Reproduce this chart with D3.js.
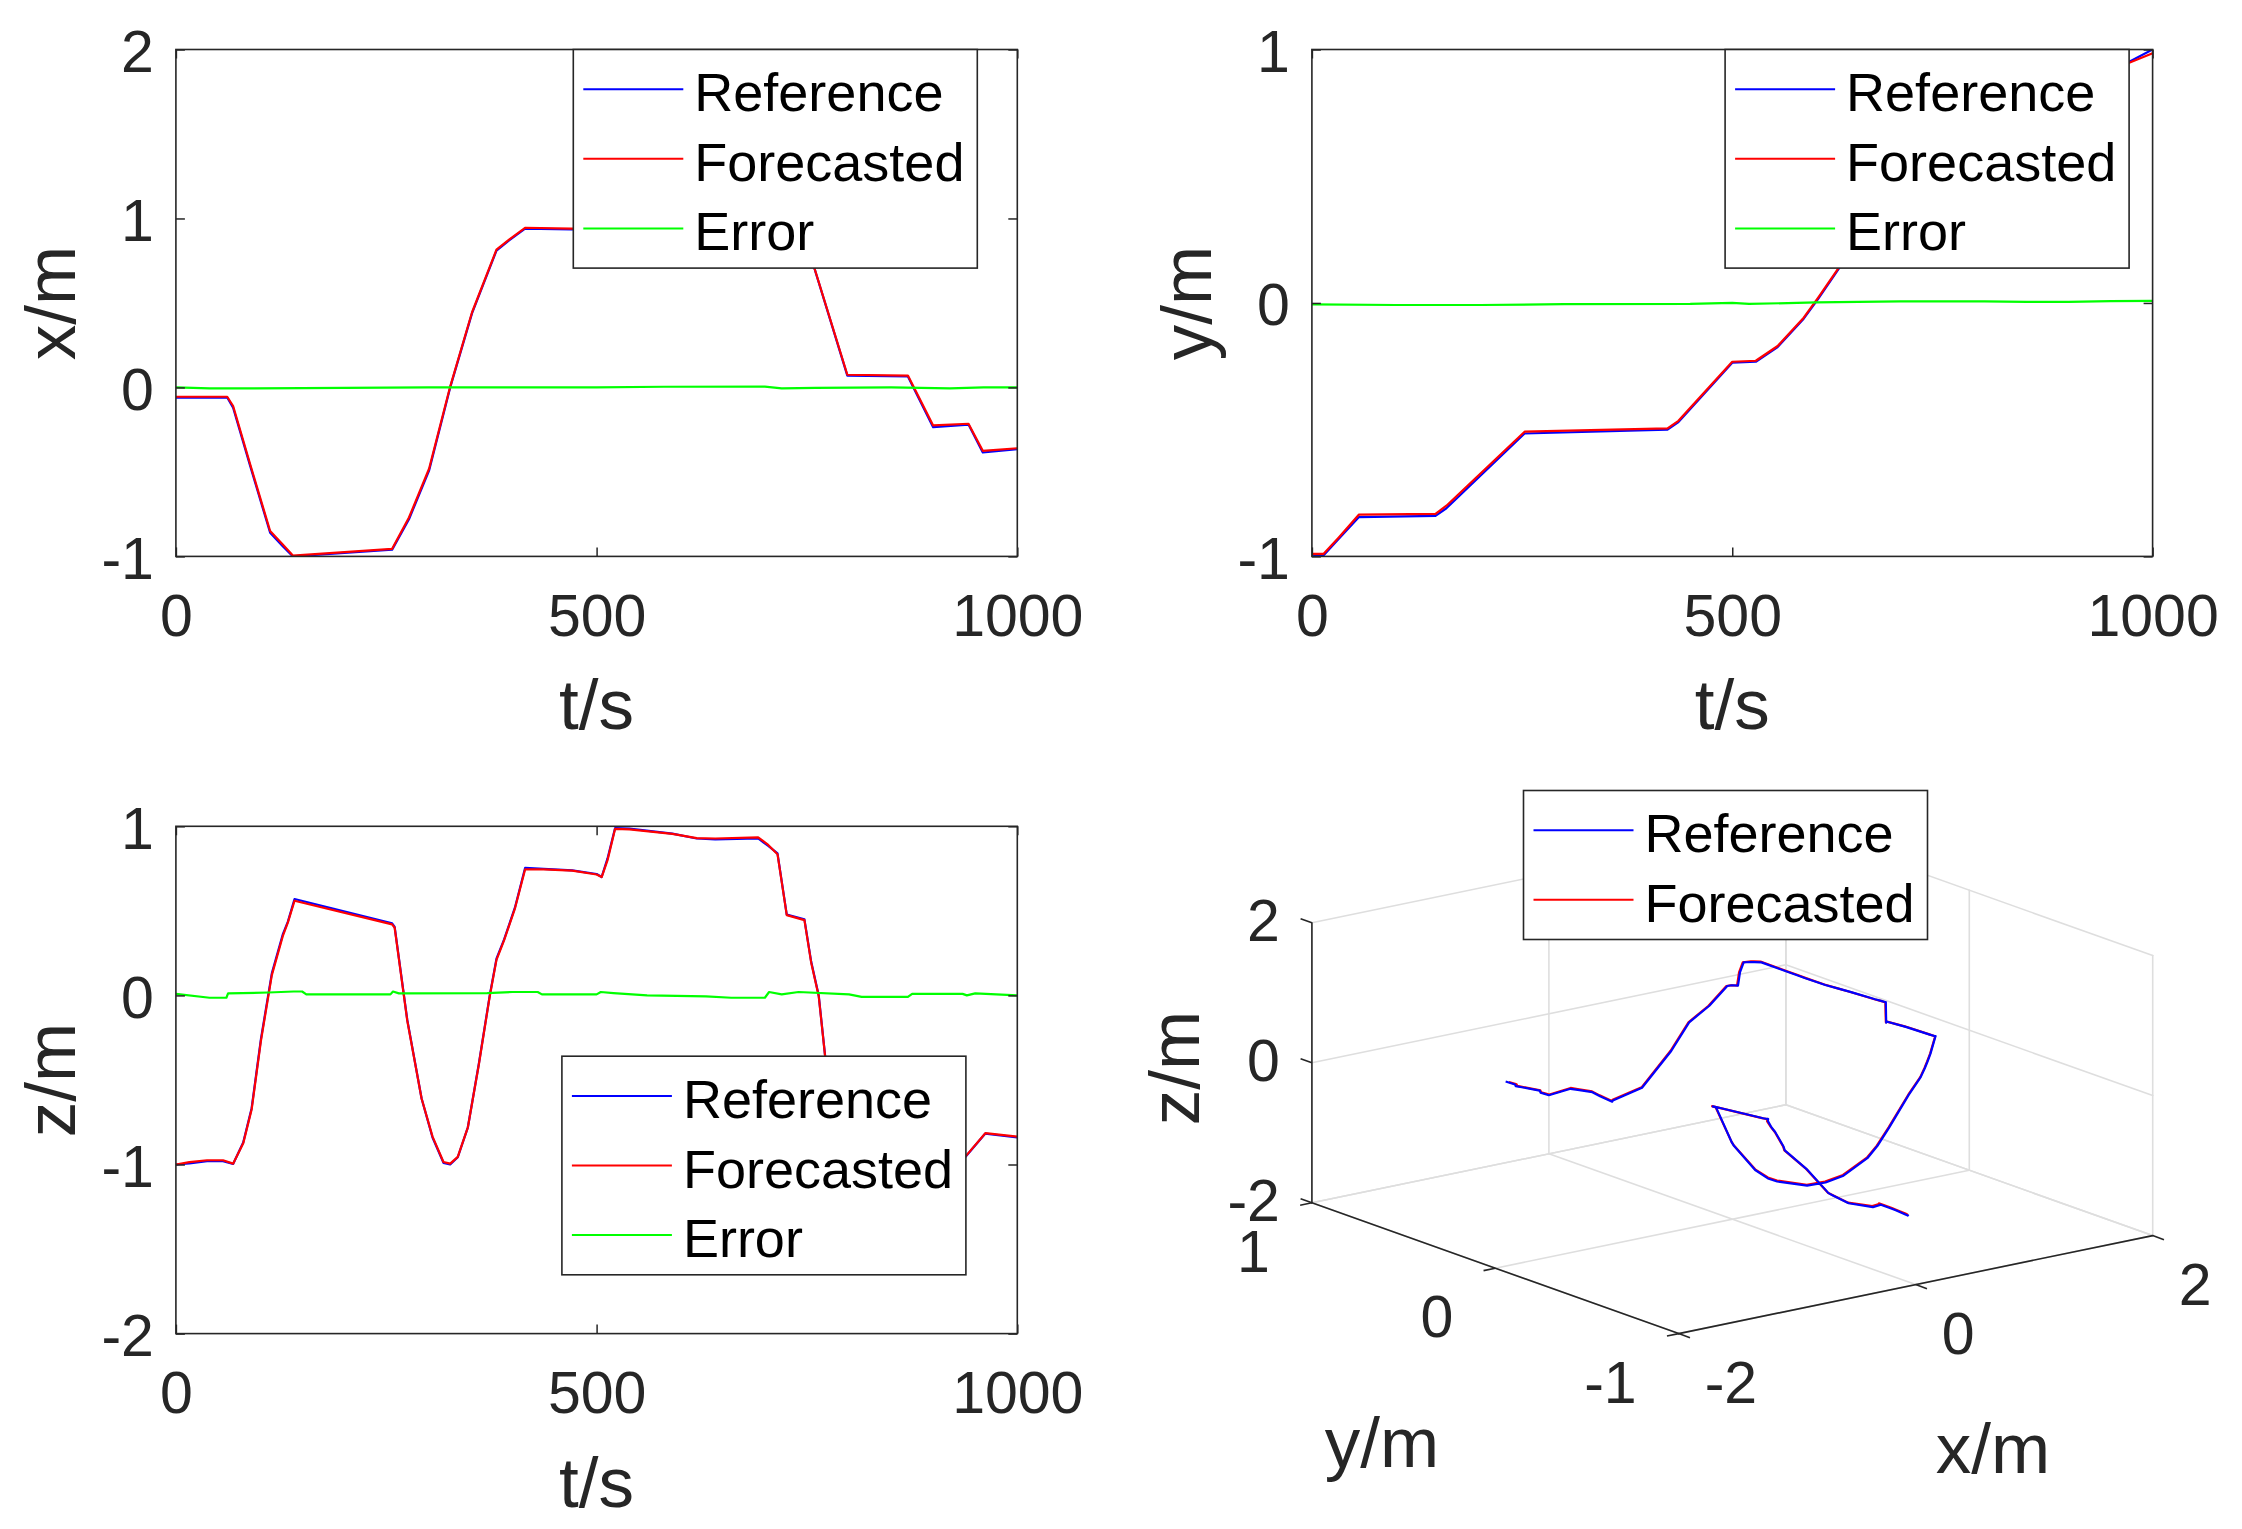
<!DOCTYPE html>
<html>
<head>
<meta charset="utf-8">
<script src="https://cdn.jsdelivr.net/npm/d3@7.9.0/dist/d3.min.js"></script>
<style>
  body { margin: 0; background: #fff; }
  svg { display: block; font-family: "Liberation Sans", Arial, sans-serif; }
</style>
</head>
<body>
<svg id="chart" width="2242" height="1529"></svg>
<script>
// ---- data ----
const tTicks = [0, 500, 1000];

const xT   = [0, 61, 68, 88, 112, 127, 139, 257, 277, 301, 326, 352, 381, 396, 415, 470, 560, 650, 745, 798, 870, 900, 942, 959, 1000];
const xRef = [-0.06, -0.06, -0.12, -0.46, -0.86, -0.94, -1.0, -0.96, -0.78, -0.49, 0.0, 0.44, 0.81, 0.87, 0.94, 0.935, 0.935, 0.935, 0.93, 0.07, 0.065, -0.235, -0.22, -0.385, -0.365];
const xFc  = [-0.055, -0.055, -0.11, -0.45, -0.85, -0.93, -0.995, -0.955, -0.77, -0.48, 0.005, 0.445, 0.815, 0.875, 0.945, 0.94, 0.935, 0.935, 0.93, 0.075, 0.07, -0.225, -0.215, -0.375, -0.36];
const errXT = [0, 40, 150, 300, 500, 580, 700, 720, 760, 850, 920, 960, 1000];
const errX  = [0.0, -0.006, -0.004, 0.0, 0.0, 0.004, 0.005, -0.006, -0.003, 0.0, -0.005, 0.0, 0.0];

const yT   = [0, 14, 32, 56, 147, 160, 253, 423, 436, 500, 528, 554, 585, 602, 628, 660, 700, 720, 800, 880, 970, 1000];
const yRef = [-1.0, -0.996, -0.93, -0.845, -0.84, -0.81, -0.515, -0.50, -0.47, -0.236, -0.232, -0.174, -0.062, 0.015, 0.141, 0.30, 0.48, 0.56, 0.70, 0.82, 0.948, 1.0];
const yFc  = [-0.99, -0.99, -0.925, -0.835, -0.832, -0.8, -0.508, -0.495, -0.465, -0.232, -0.228, -0.17, -0.058, 0.02, 0.145, 0.305, 0.485, 0.565, 0.705, 0.825, 0.945, 0.985];
const errYT = [0, 100, 200, 300, 450, 500, 520, 600, 700, 800, 850, 900, 950, 1000];
const errY  = [-0.006, -0.008, -0.008, -0.005, -0.004, 0.0, -0.004, 0.002, 0.006, 0.006, 0.004, 0.004, 0.007, 0.008];

const zT   = [0, 16, 37, 56, 68, 80, 90, 101, 114, 127, 133, 141, 257, 260, 275, 292, 305, 318, 326, 335, 347, 360, 373, 381, 390, 403, 415, 437, 471, 500, 506, 513, 522, 539, 590, 619, 641, 692, 704, 715, 726, 747, 755, 764, 772, 785, 800, 843, 870, 885, 900, 938, 962, 1000];
const zRef = [-1.0, -0.994, -0.98, -0.98, -0.997, -0.87, -0.667, -0.26, 0.13, 0.36, 0.435, 0.57, 0.426, 0.405, -0.145, -0.61, -0.84, -0.99, -1.0, -0.957, -0.78, -0.406, 0.0, 0.217, 0.33, 0.52, 0.754, 0.748, 0.739, 0.718, 0.70, 0.81, 0.99, 0.986, 0.957, 0.928, 0.922, 0.928, 0.884, 0.84, 0.478, 0.45, 0.2, 0.0, -0.377, -0.85, -1.0, -0.98, -0.96, -0.88, -0.94, -0.957, -0.817, -0.84];
const zFc  = [-1.0, -0.986, -0.975, -0.975, -0.995, -0.875, -0.675, -0.27, 0.12, 0.35, 0.43, 0.56, 0.42, 0.40, -0.15, -0.61, -0.835, -0.985, -0.995, -0.955, -0.78, -0.41, -0.005, 0.21, 0.325, 0.515, 0.745, 0.745, 0.738, 0.715, 0.70, 0.80, 0.985, 0.982, 0.955, 0.93, 0.928, 0.935, 0.89, 0.835, 0.475, 0.445, 0.195, -0.005, -0.38, -0.85, -0.995, -0.975, -0.955, -0.875, -0.935, -0.955, -0.815, -0.835];
const errZT = [0, 40, 60, 62, 110, 140, 150, 155, 255, 258, 265, 370, 400, 430, 435, 500, 505, 520, 560, 630, 660, 700, 705, 720, 740, 800, 815, 870, 875, 935, 940, 950, 1000];
const errZ  = [0.009, -0.014, -0.014, 0.012, 0.017, 0.023, 0.023, 0.006, 0.006, 0.023, 0.012, 0.014, 0.02, 0.02, 0.006, 0.006, 0.02, 0.014, 0.0, -0.006, -0.014, -0.014, 0.02, 0.006, 0.02, 0.006, -0.009, -0.009, 0.009, 0.009, 0.0, 0.012, 0.0];

const legendNames3 = ['Reference', 'Forecasted', 'Error'];
const colors = { ref: '#0000ff', fc: '#ff0000', err: '#00ff00' };

// ---- styling ----
const ink = '#262626';
const tickFont = 59, labelFont = 71, legendFont = 54;
const svg = d3.select('#chart');
svg.append('rect').attr('width', 2242).attr('height', 1529).attr('fill', '#fff');

let clipN = 0;
function drawLegend(lx, ly, names, cols) {
  const w = 404, h = 39.7 * 2 + 69.6 * (names.length - 1);
  const g = svg.append('g');
  g.append('rect').attr('x', lx).attr('y', ly).attr('width', w).attr('height', h)
    .attr('fill', '#fff').attr('stroke', ink).attr('stroke-width', 1.6);
  names.forEach((n, i) => {
    const cy = ly + 39.7 + i * 69.6;
    g.append('line').attr('x1', lx + 10).attr('x2', lx + 110).attr('y1', cy).attr('y2', cy)
      .attr('stroke', cols[i]).attr('stroke-width', 2);
    g.append('text').attr('x', lx + 121).attr('y', cy + 22).attr('font-size', legendFont)
      .attr('fill', '#000').text(n);
  });
}

function drawPanel(cfg) {
  const { left, right, top, bottom, yDomain, yTicks, ylabel, series, legend } = cfg;
  const x = d3.scaleLinear().domain([0, 1000]).range([left, right]);
  const y = d3.scaleLinear().domain(yDomain).range([bottom, top]);
  const id = 'clip' + (clipN++);
  svg.append('clipPath').attr('id', id).append('rect')
    .attr('x', left).attr('y', top).attr('width', right - left).attr('height', bottom - top);

  const line = d3.line().x(d => x(d[0])).y(d => y(d[1]));
  series.forEach(s => {
    svg.append('path').datum(d3.zip(s.t, s.v)).attr('d', line)
      .attr('fill', 'none').attr('stroke', s.color).attr('stroke-width', 2.2)
      .attr('stroke-linejoin', 'round').attr('clip-path', `url(#${id})`);
  });

  const fmt = d => String(d);
  const styleAxis = g => {
    g.attr('font-size', tickFont).attr('font-family', null).attr('color', ink);
    g.select('.domain').remove();
    g.selectAll('line').attr('stroke-width', 1.5);
  };
  svg.append('g').attr('transform', `translate(0,${bottom})`)
    .call(d3.axisBottom(x).tickValues(tTicks).tickFormat(fmt).tickSize(-9).tickPadding(38))
    .call(styleAxis);
  svg.append('g').attr('transform', `translate(0,${top})`)
    .call(d3.axisTop(x).tickValues(tTicks).tickFormat('').tickSize(-9))
    .call(styleAxis);
  svg.append('g').attr('transform', `translate(${left},0)`)
    .call(d3.axisLeft(y).tickValues(yTicks).tickFormat(fmt).tickSize(-9).tickPadding(22))
    .call(styleAxis)
    .call(g => g.selectAll('text').attr('dy', '0.37em'));
  svg.append('g').attr('transform', `translate(${right},0)`)
    .call(d3.axisRight(y).tickValues(yTicks).tickFormat('').tickSize(-9))
    .call(styleAxis);

  svg.append('rect').attr('x', left).attr('y', top).attr('width', right - left).attr('height', bottom - top)
    .attr('fill', 'none').attr('stroke', ink).attr('stroke-width', 1.6);

  svg.append('text').attr('transform', `translate(${left - 101},${(top + bottom) / 2}) rotate(-90)`)
    .attr('text-anchor', 'middle').attr('font-size', labelFont).attr('fill', ink).text(ylabel);
  svg.append('text').attr('x', (left + right) / 2).attr('y', bottom + 173)
    .attr('text-anchor', 'middle').attr('font-size', labelFont).attr('fill', ink).text('t/s');

  drawLegend(legend[0], legend[1], legendNames3, [colors.ref, colors.fc, colors.err]);
}

drawPanel({
  left: 175.9, right: 1017.3, top: 49.5, bottom: 556.4,
  yDomain: [-1, 2], yTicks: [-1, 0, 1, 2], ylabel: 'x/m',
  series: [
    { t: xT, v: xRef, color: colors.ref },
    { t: xT, v: xFc, color: colors.fc },
    { t: errXT, v: errX, color: colors.err }
  ],
  legend: [573.3, 49.5]
});

drawPanel({
  left: 1311.9, right: 2152.6, top: 49.5, bottom: 556.4,
  yDomain: [-1, 1], yTicks: [-1, 0, 1], ylabel: 'y/m',
  series: [
    { t: yT, v: yRef, color: colors.ref },
    { t: yT, v: yFc, color: colors.fc },
    { t: errYT, v: errY, color: colors.err }
  ],
  legend: [1725.1, 49.5]
});

drawPanel({
  left: 175.9, right: 1017.3, top: 826.3, bottom: 1333.6,
  yDomain: [-2, 1], yTicks: [-2, -1, 0, 1], ylabel: 'z/m',
  series: [
    { t: zT, v: zRef, color: colors.ref },
    { t: zT, v: zFc, color: colors.fc },
    { t: errZT, v: errZ, color: colors.err }
  ],
  legend: [561.9, 1056.2]
});

// ---- 3-D trajectory panel (orthographic view) ----
const ticks3x = [-2, 0, 2], ticks3y = [-1, 0, 1], ticks3z = [-2, 0, 2];
const origin3 = [1732.3, 1079.2];
// per-axis screen contributions
const sX = [d3.scaleLinear().domain([-2, 2]).range([-237.0, 237.0]), d3.scaleLinear().domain([-2, 2]).range([49.0, -49.0])];
const sY = [d3.scaleLinear().domain([-1, 1]).range([183.4, -183.4]), d3.scaleLinear().domain([-1, 1]).range([65.4, -65.4])];
const sZ = d3.scaleLinear().domain([-2, 2]).range([140.0, -140.0]);
function proj(x, y, z) {
  return [origin3[0] + sX[0](x) + sY[0](y), origin3[1] + sX[1](x) + sY[1](y) + sZ(z)];
}
const g3 = svg.append('g');
const seg = (a, b, col, w) => {
  const p = proj(...a), q = proj(...b);
  g3.append('line').attr('x1', p[0]).attr('y1', p[1]).attr('x2', q[0]).attr('y2', q[1])
    .attr('stroke', col).attr('stroke-width', w).attr('stroke-linecap', 'round');
};
const grid = '#dedede';
ticks3x.forEach(v => { seg([v, -1, -2], [v, 1, -2], grid, 1.6); seg([v, 1, -2], [v, 1, 2], grid, 1.6); });
ticks3y.forEach(v => { seg([-2, v, -2], [2, v, -2], grid, 1.6); seg([2, v, -2], [2, v, 2], grid, 1.6); });
ticks3z.forEach(v => { seg([-2, 1, v], [2, 1, v], grid, 1.6); seg([2, -1, v], [2, 1, v], grid, 1.6); });

// axis lines
seg([-2, -1, -2], [-2, 1, -2], ink, 1.6);
seg([-2, -1, -2], [2, -1, -2], ink, 1.6);
seg([-2, 1, -2], [-2, 1, 2], ink, 1.6);

// tick marks
function unit(v) { const l = Math.hypot(v[0], v[1]); return [v[0] / l, v[1] / l]; }
const dirX = unit([sX[0](2) - sX[0](-2), sX[1](2) - sX[1](-2)]);
const dirY = unit([sY[0](1) - sY[0](-1), sY[1](1) - sY[1](-1)]);
const tl = 12;
function tick(p, d) {
  g3.append('line').attr('x1', p[0]).attr('y1', p[1]).attr('x2', p[0] + d[0] * tl).attr('y2', p[1] + d[1] * tl)
    .attr('stroke', ink).attr('stroke-width', 1.6);
}
ticks3x.forEach(v => tick(proj(v, -1, -2), [-dirY[0], -dirY[1]]));
ticks3y.forEach(v => tick(proj(-2, v, -2), [-dirX[0], -dirX[1]]));
ticks3z.forEach(v => tick(proj(-2, 1, v), dirY));

// tick labels
ticks3x.forEach(v => {
  const p = proj(v, -1, -2);
  g3.append('text').attr('x', p[0] + 26).attr('y', p[1] + 69).attr('font-size', tickFont).attr('fill', ink).text(String(v));
});
ticks3y.forEach(v => {
  const p = proj(-2, v, -2);
  g3.append('text').attr('x', p[0] - 42).attr('y', p[1] + 69).attr('text-anchor', 'end').attr('font-size', tickFont).attr('fill', ink).text(String(v));
});
ticks3z.forEach(v => {
  const p = proj(-2, 1, v);
  g3.append('text').attr('x', p[0] - 32).attr('y', p[1] + 18).attr('text-anchor', 'end').attr('font-size', tickFont).attr('fill', ink).text(String(v));
});

// axis labels
g3.append('text').attr('transform', 'translate(1199,1068) rotate(-90)').attr('text-anchor', 'middle')
  .attr('font-size', labelFont).attr('fill', ink).text('z/m');
g3.append('text').attr('x', 1382).attr('y', 1467).attr('text-anchor', 'middle')
  .attr('font-size', labelFont).attr('fill', ink).text('y/m');
g3.append('text').attr('x', 1993).attr('y', 1473).attr('text-anchor', 'middle')
  .attr('font-size', labelFont).attr('fill', ink).text('x/m');

// trajectory: combine the three series at the union of their sample times
const tAll = Array.from(new Set([...xT, ...yT, ...zT])).sort((a, b) => a - b);
function traj(xs, ys, zs) {
  const fx = d3.scaleLinear().domain(xT).range(xs);
  const fy = d3.scaleLinear().domain(yT).range(ys);
  const fz = d3.scaleLinear().domain(zT).range(zs);
  return tAll.map(t => proj(fx(t), fy(t), fz(t)));
}
const line3 = d3.line();
g3.append('path').attr('d', line3(traj(xFc, yFc, zFc))).attr('fill', 'none')
  .attr('stroke', colors.fc).attr('stroke-width', 2.2).attr('stroke-linejoin', 'round');
g3.append('path').attr('d', line3(traj(xRef, yRef, zRef))).attr('fill', 'none')
  .attr('stroke', colors.ref).attr('stroke-width', 2.2).attr('stroke-linejoin', 'round');

drawLegend(1523.5, 790.5, ['Reference', 'Forecasted'], [colors.ref, colors.fc]);
</script>
</body>
</html>
